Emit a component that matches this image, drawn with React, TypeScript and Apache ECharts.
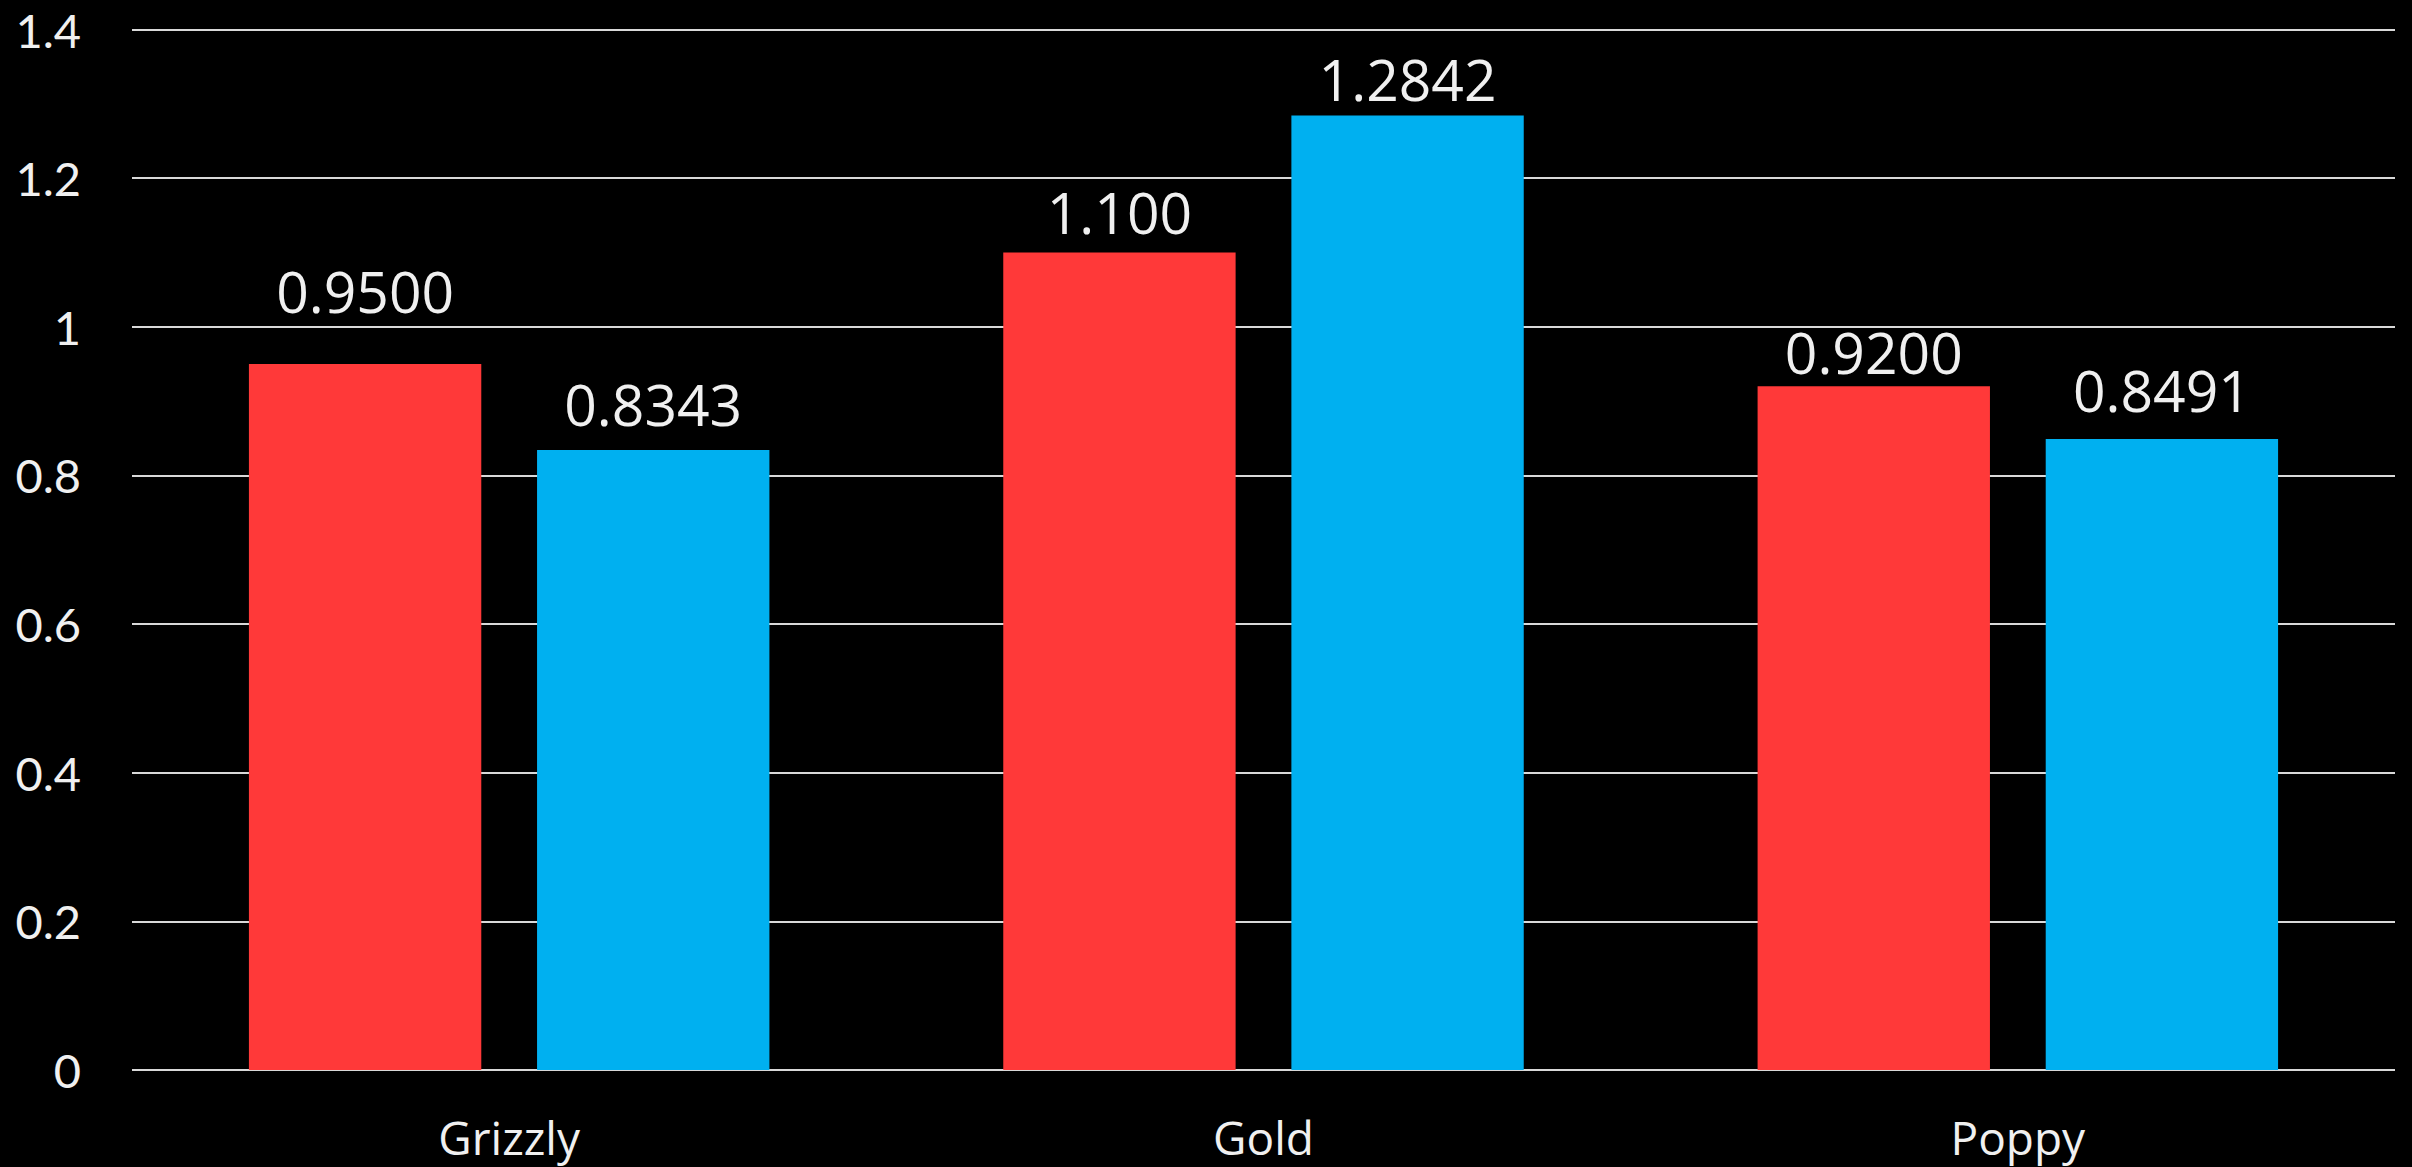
import React, { useEffect, useRef } from "react";
import * as echarts from "echarts";

const categories = ["Grizzly", "Gold", "Poppy"];
const redValues = [0.95, 1.1, 0.92];
const blueValues = [0.8343, 1.2842, 0.8491];
const redLabels = ["0.9500", "1.100", "0.9200"];
const blueLabels = ["0.8343", "1.2842", "0.8491"];
const yTicks = { min: 0, max: 1.4, interval: 0.2 };

// per-bar label vertical nudges (style only)
const redLabelOffsets = [-44, -12, -6];
const blueLabelOffsets = [-17, -8, -20];

const FONT = "'Open Sans', 'Noto Sans', sans-serif";
const YFONT = "Lato, 'Open Sans', sans-serif";
const TEXT = "#f0f0f0";

export default function App() {
  const ref = useRef<HTMLDivElement>(null);
  useEffect(() => {
    document.body.style.margin = "0";
    document.body.style.background = "#000";
    if (!ref.current) return;
    const chart = echarts.init(ref.current, null, { renderer: "svg" });
    const mk = (vals: number[], labels: string[], offs: number[]) =>
      vals.map((v, i) => ({
        value: v,
        label: { formatter: labels[i], offset: [0, offs[i]] },
      }));
    chart.setOption({
      animation: false,
      backgroundColor: "#000000",
      grid: { left: 132, right: 17, top: 29.5, bottom: 97, containLabel: false },
      xAxis: {
        type: "category",
        data: categories,
        axisLine: { show: false },
        axisTick: { show: false },
        axisLabel: { color: TEXT, fontFamily: FONT, fontSize: 46, margin: 44 },
      },
      yAxis: {
        type: "value",
        min: yTicks.min,
        max: yTicks.max,
        interval: yTicks.interval,
        axisLine: { show: false },
        axisTick: { show: false },
        axisLabel: { color: TEXT, fontFamily: YFONT, fontSize: 47, lineHeight: 40, margin: 51 },
        splitLine: { lineStyle: { color: "#d9d9d9", width: 2 } },
      },
      series: [
        {
          type: "bar",
          data: mk(redValues, redLabels, redLabelOffsets),
          itemStyle: { color: "#FF3939" },
          barGap: "24%",
          barCategoryGap: "31%",
          label: {
            show: true,
            position: "top",
            distance: 0,
            color: TEXT,
            fontFamily: FONT,
            fontSize: 57,
            lineHeight: 57,
          },
        },
        {
          type: "bar",
          data: mk(blueValues, blueLabels, blueLabelOffsets),
          itemStyle: { color: "#00B0F0" },
          barGap: "24%",
          barCategoryGap: "31%",
          label: {
            show: true,
            position: "top",
            distance: 0,
            color: TEXT,
            fontFamily: FONT,
            fontSize: 57,
            lineHeight: 57,
          },
        },
      ],
    });
    return () => chart.dispose();
  }, []);
  return <div ref={ref} style={{ width: 2412, height: 1167, background: "#000" }} />;
}
